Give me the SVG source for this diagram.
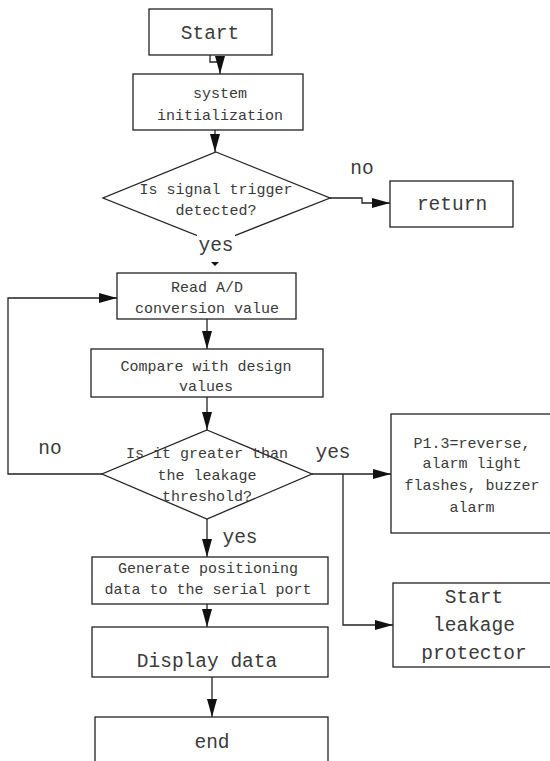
<svg xmlns="http://www.w3.org/2000/svg" width="550" height="761" viewBox="0 0 550 761">
<style>
.box{fill:#fff;stroke:#222;stroke-width:1.3}
.ln{fill:none;stroke:#222;stroke-width:1.3}
.t{font-family:"Liberation Mono",monospace;fill:#3a3a3a;text-anchor:middle}
.s{font-size:15px}
.b{font-size:19.5px}
</style>
<defs>
<marker id="ah" viewBox="0 0 18 10" refX="18" refY="5" markerWidth="18" markerHeight="10" markerUnits="userSpaceOnUse" orient="auto">
<path d="M0,0 L18,5 L0,10 z" fill="#111"/>
</marker>
</defs>
<rect width="550" height="761" fill="#fff"/>
<g id="connectors">
<path class="ln" d="M210,55 V62 H220 V74" marker-end="url(#ah)"/>
<path class="ln" d="M215,130 V152" marker-end="url(#ah)"/>
<path class="ln" d="M330,198 H362 V203 H390" marker-end="url(#ah)"/>
<path d="M211,262 H219 L215,266 z" fill="#111"/>
<path class="ln" d="M102,474 H8 V298 H117" marker-end="url(#ah)"/>
<path class="ln" d="M207,319 V349" marker-end="url(#ah)"/>
<path class="ln" d="M207,397 V430" marker-end="url(#ah)"/>
<path class="ln" d="M312,474 H391" marker-end="url(#ah)"/>
<path class="ln" d="M343,474 V625 H393" marker-end="url(#ah)"/>
<path class="ln" d="M207,519 V557" marker-end="url(#ah)"/>
<path class="ln" d="M207,604 V627" marker-end="url(#ah)"/>
<path class="ln" d="M212,677 V717" marker-end="url(#ah)"/>
</g>
<g id="start">
<rect class="box" x="149" y="9" width="123" height="46"/>
<text class="t b" x="210" y="39">Start</text>
</g>
<g id="init">
<rect class="box" x="133" y="74" width="170" height="56"/>
<text class="t s" x="220" y="98">system</text>
<text class="t s" x="220" y="120">initialization</text>
</g>
<g id="decision1">
<polygon class="box" points="216,152 330,198 216,243 103,198"/>
<text class="t s" x="216" y="194">Is signal trigger</text>
<text class="t s" x="216" y="215">detected?</text>
<text class="t b" x="362" y="174">no</text>
<rect x="197" y="235" width="38" height="22" fill="#fff"/>
<text class="t b" x="216" y="251">yes</text>
</g>
<g id="return">
<rect class="box" x="390" y="181" width="123" height="46"/>
<text class="t b" x="452" y="210">return</text>
</g>
<g id="read">
<rect class="box" x="117" y="273" width="179" height="46"/>
<text class="t s" x="207" y="292">Read A/D</text>
<text class="t s" x="207" y="313">conversion value</text>
</g>
<g id="compare">
<rect class="box" x="91" y="349" width="232" height="48"/>
<text class="t s" x="206" y="371">Compare with design</text>
<text class="t s" x="206" y="391">values</text>
</g>
<g id="decision2">
<polygon class="box" points="207,430 312,474 207,519 102,474"/>
<text class="t s" x="207" y="458">Is it greater than</text>
<text class="t s" x="207" y="480">the leakage</text>
<text class="t s" x="207" y="501">threshold?</text>
<text class="t b" x="50" y="454">no</text>
<text class="t b" x="333" y="458">yes</text>
<text class="t b" x="240" y="543">yes</text>
</g>
<g id="alarm">
<rect class="box" x="391" y="414" width="165" height="119"/>
<text class="t s" x="472" y="448">P1.3=reverse,</text>
<text class="t s" x="472" y="468">alarm light</text>
<text class="t s" x="472" y="490">flashes, buzzer</text>
<text class="t s" x="472" y="512">alarm</text>
</g>
<g id="protector">
<rect class="box" x="393" y="583" width="165" height="84"/>
<text class="t b" x="474" y="603">Start</text>
<text class="t b" x="474" y="631">leakage</text>
<text class="t b" x="474" y="659">protector</text>
</g>
<g id="generate">
<rect class="box" x="92" y="557" width="236" height="47"/>
<text class="t s" x="208" y="573">Generate positioning</text>
<text class="t s" x="208" y="594">data to the serial port</text>
</g>
<g id="display">
<rect class="box" x="92" y="627" width="236" height="50"/>
<text class="t b" x="207" y="667">Display data</text>
</g>
<g id="end">
<rect class="box" x="95" y="717" width="233" height="60"/>
<text class="t b" x="212" y="748">end</text>
</g>
</svg>
